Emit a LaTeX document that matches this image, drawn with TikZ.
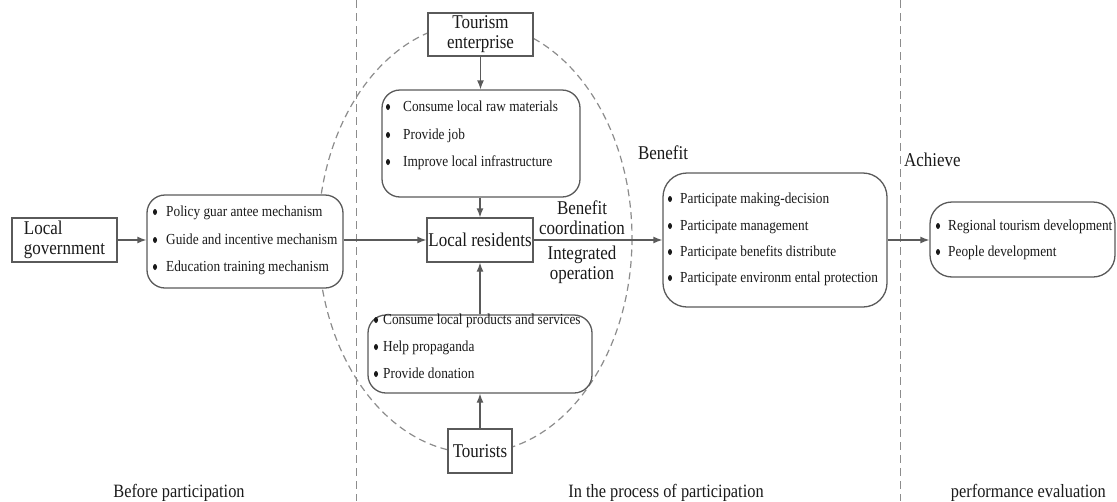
\documentclass[tikz,border=0pt]{standalone}
\usepackage{fontspec}
\setmainfont{Liberation Serif}[FakeStretch=0.87]
\usetikzlibrary{arrows.meta}
\newcommand\LabFont{\fontsize{19.5}{20}\selectfont}
\newcommand\BotFont{\fontsize{18.8}{20}\selectfont}
\newcommand\BulFont{\fontsize{15.3}{16}\selectfont}
\definecolor{lineg}{HTML}{5A5A5A}
\definecolor{dashg}{HTML}{8C8C8C}
\definecolor{txt}{HTML}{1A1A1A}
\begin{document}
\begin{tikzpicture}[x=1pt,y=-1pt,
  sqbox/.style={draw=lineg, line width=1.3pt, fill=white, inner sep=0pt, align=center, font=\LabFont, text=txt},
  rbox/.style={draw=lineg, line width=1.3pt, fill=white, rounded corners=18pt, inner sep=0pt},
  bline/.style={anchor=west, inner sep=0pt, font=\BulFont, text=txt, text height=10pt, text depth=3pt},
  lbl/.style={inner sep=0pt, font=\LabFont, text=txt, align=center},
  botlbl/.style={inner sep=0pt, font=\BotFont, text=txt},
  arr/.style={draw=lineg, line width=1.3pt, -{Latex[length=9pt,width=7pt]}},
  sep/.style={draw=dashg, line width=1pt, dash pattern=on 8pt off 5pt},
  bul/.style={fill=txt}
]
\useasboundingbox (0,0) rectangle (1117,501);
% separators
\draw[sep] (356,0) -- (356,501);
\draw[sep] (900,0) -- (900,501);
% participation ellipse
\draw[draw=dashg, line width=1.2pt, dash pattern=on 7pt off 4.5pt] (475,238) ellipse (157 and 215);

% boxes
\node[sqbox, minimum width=105pt, minimum height=44pt, align=left] (lg) at (64.5,240) {Local\\government};
\node[rbox, minimum width=196pt, minimum height=93pt] (lb) at (245,241.5) {};
\node[sqbox, minimum width=105pt, minimum height=43pt] (te) at (480.5,34.5) {Tourism\\enterprise};
\node[rbox, minimum width=198pt, minimum height=107pt] (tb) at (481,143.5) {};
\node[sqbox, minimum width=106pt, minimum height=44pt] (lr) at (480,240) {Local residents};
\node[rbox, minimum width=224pt, minimum height=78pt] (bb) at (480,354) {};
\node[sqbox, minimum width=64pt, minimum height=44pt] (tour) at (480,451) {Tourists};
\node[rbox, rounded corners=24pt, minimum width=224pt, minimum height=134pt] (rb) at (775,240) {};
\node[rbox, rounded corners=22pt, minimum width=185pt, minimum height=75pt] (fb) at (1022.5,239.5) {};

% bullet lines: left box
\fill[bul] (155,212) ellipse (2 and 3);
\fill[bul] (155,240) ellipse (2 and 3);
\fill[bul] (155,267) ellipse (2 and 3);
\node[bline] (lb1) at (166,213) {Policy guar antee mechanism};
\node[bline] (lb2) at (166,241) {Guide and incentive mechanism};
\node[bline] (lb3) at (166,268) {Education training mechanism};
% top box
\fill[bul] (388,107) ellipse (2 and 3);
\fill[bul] (388,135) ellipse (2 and 3);
\fill[bul] (388,162) ellipse (2 and 3);
\node[bline] (tb1) at (403,108) {Consume local raw materials};
\node[bline] (tb2) at (403,136) {Provide job};
\node[bline] (tb3) at (403,163) {Improve local infrastructure};
% bottom box
\fill[bul] (376,320) ellipse (2 and 3);
\fill[bul] (376,347) ellipse (2 and 3);
\fill[bul] (376,374) ellipse (2 and 3);
\node[bline] (bb1) at (383,321) {Consume local products and services};
\node[bline] (bb2) at (383,348) {Help propaganda};
\node[bline] (bb3) at (383,375) {Provide donation};
% right box
\fill[bul] (670,199) ellipse (2 and 3);
\fill[bul] (670,226) ellipse (2 and 3);
\fill[bul] (670,252) ellipse (2 and 3);
\fill[bul] (670,278) ellipse (2 and 3);
\node[bline] (rb1) at (680,200) {Participate making-decision};
\node[bline] (rb2) at (680,227) {Participate management};
\node[bline] (rb3) at (680,253) {Participate benefits distribute};
\node[bline] (rb4) at (680,279) {Participate environm ental protection};
% final box
\fill[bul] (938,226) ellipse (2 and 3);
\fill[bul] (938,252) ellipse (2 and 3);
\node[bline] (fb1) at (948,227) {Regional tourism development};
\node[bline] (fb2) at (948,253) {People development};

% labels
\node[lbl] (lben) at (663,153) {Benefit};
\node[lbl, anchor=west] (lach) at (904,160) {Achieve};
\node[lbl] (lcoord) at (582,218) {Benefit\\coordination};
\node[lbl] (lint) at (582,265) {Integrated\\operation};
\node[botlbl] (lbef) at (179,493) {Before participation};
\node[botlbl] (lproc) at (666,493) {In the process of participation};
\node[botlbl, anchor=east] (lperf) at (1106,493) {performance evaluation};

% connectors
\draw[arr] (lg.east) -- (lb.west |- lg.east);
\draw[arr] (lb.east |- lr.west) -- (lr.west);
\draw[arr] (te.south) -- (te.south |- tb.north);
\draw[arr] (tb.south -| lr.north) -- (lr.north);
\draw[arr] (bb.north -| lr.south) -- (lr.south);
\draw[arr] (tour.north) -- (tour.north |- bb.south);
\draw[arr] (lr.east) -- (rb.west |- lr.east);
\draw[arr] (rb.east |- lr.east) -- (fb.west |- lr.east);
\end{tikzpicture}
\end{document}
